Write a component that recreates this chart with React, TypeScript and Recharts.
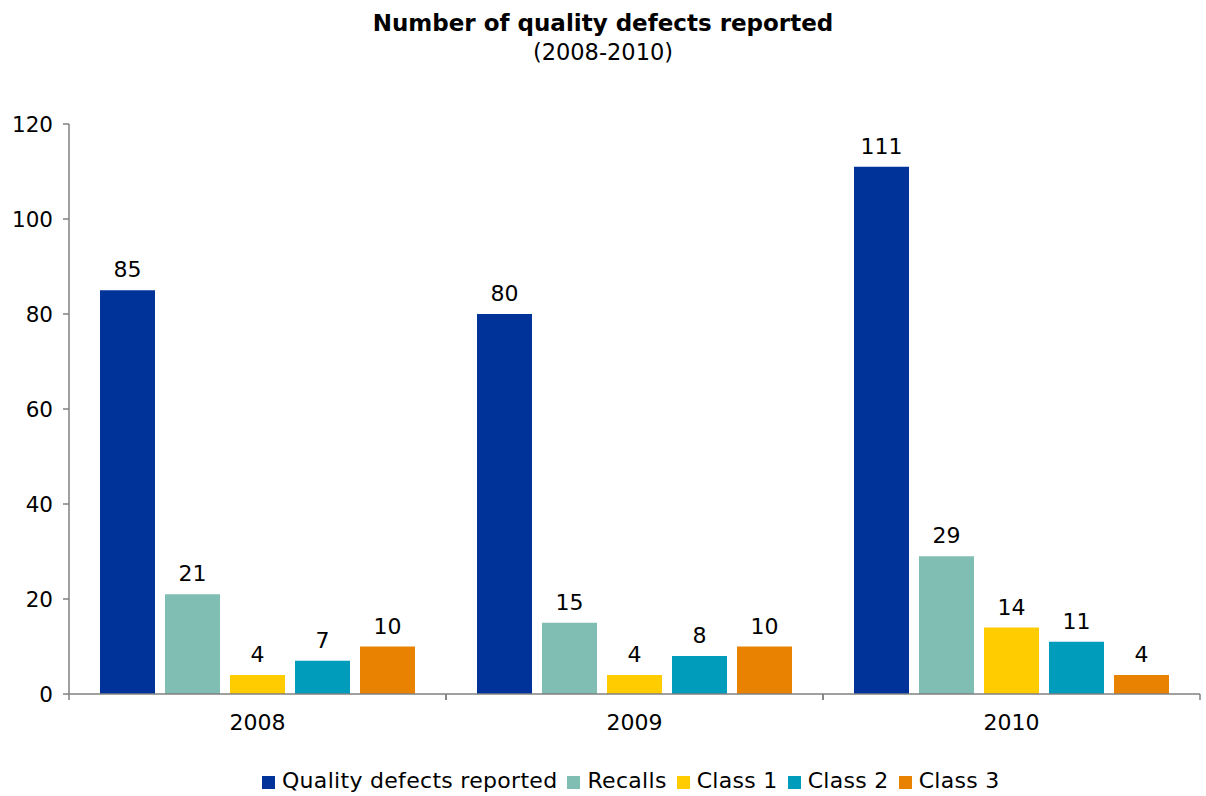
import React from 'react';
import { BarChart, Bar, XAxis, YAxis, Legend, LabelList } from 'recharts';

const years = ['2008', '2009', '2010'];
const qualityDefects = [85, 80, 111];
const recalls = [21, 15, 29];
const class1 = [4, 4, 14];
const class2 = [7, 8, 11];
const class3 = [10, 10, 4];
const yTicks = [0, 20, 40, 60, 80, 100, 120];

const data = years.map((y, i) => ({
  year: y,
  q: qualityDefects[i],
  r: recalls[i],
  c1: class1[i],
  c2: class2[i],
  c3: class3[i],
}));

const FONT = '"DejaVu Sans", Verdana, sans-serif';
const AXIS = '#808080';

const XTick = (props: any) => {
  const { x, y, payload } = props;
  const off = payload && payload.offset ? payload.offset : 0;
  const axisY = y - 6 - 14;
  return (
    <g>
      <line x1={x - off} y1={axisY} x2={x - off} y2={axisY + 6} stroke={AXIS} strokeWidth={1.5} />
      <line x1={x + off} y1={axisY} x2={x + off} y2={axisY + 6} stroke={AXIS} strokeWidth={1.5} />
      <text x={x} y={y} dy={16} textAnchor="middle" fill="#000" fontSize={22} fontFamily={FONT}>
        {payload.value}
      </text>
    </g>
  );
};

const series = [
  { key: 'q', name: 'Quality defects reported', color: '#003399' },
  { key: 'r', name: 'Recalls', color: '#80BDB3' },
  { key: 'c1', name: 'Class 1', color: '#FFCC00' },
  { key: 'c2', name: 'Class 2', color: '#009CBB' },
  { key: 'c3', name: 'Class 3', color: '#E88200' },
];
const order = series.map((s) => s.key);

export default function App() {
  return (
    <div style={{ position: 'absolute', left: 0, top: 0, width: 1206, height: 796, background: '#fff', fontFamily: FONT }}>
      <div style={{ position: 'absolute', left: 0, top: 8, width: 1206, textAlign: 'center', fontSize: 23, fontWeight: 'bold', color: '#000', lineHeight: '30px' }}>
        Number of quality defects reported
      </div>
      <div style={{ position: 'absolute', left: 0, top: 37, width: 1206, textAlign: 'center', fontSize: 22.5, color: '#000', lineHeight: '30px' }}>
        (2008-2010)
      </div>
      <BarChart
        width={1206}
        height={796}
        data={data}
        margin={{ top: 124, right: 6, left: 9, bottom: 0 }}
        barCategoryGap={31}
        barGap={10}
      >
        <YAxis
          width={60}
          domain={[0, 120]}
          ticks={yTicks}
          interval={0}
          tick={{ fill: '#000', fontSize: 21.5, fontFamily: FONT }}
          axisLine={{ stroke: AXIS, strokeWidth: 1.5 }}
          tickLine={{ stroke: AXIS, strokeWidth: 1.5 }}
          tickSize={6}
          tickMargin={10}
        />
        <XAxis
          dataKey="year"
          height={72}
          axisLine={{ stroke: AXIS, strokeWidth: 1.5 }}
          tickLine={false}
          tickSize={6}
          tickMargin={14}
          tick={<XTick />}
          interval={0}
        />
        <Legend
          verticalAlign="bottom"
          align="center"
          iconType="square"
          iconSize={13}
          itemSorter={(item: any) => order.indexOf(item.dataKey)}
          wrapperStyle={{ left: 262, width: 'auto', textAlign: 'left', fontFamily: FONT, fontSize: 22, letterSpacing: 0.3, color: '#000', lineHeight: '30px' }}
          formatter={(value: string) => <span style={{ color: '#000', marginLeft: 3 }}>{value}</span>}
        />
        {series.map((s) => (
          <Bar key={s.key} dataKey={s.key} name={s.name} fill={s.color} isAnimationActive={false}>
            <LabelList dataKey={s.key} position="top" offset={13} fill="#000" fontSize={22} fontFamily={FONT} />
          </Bar>
        ))}
      </BarChart>
    </div>
  );
}
